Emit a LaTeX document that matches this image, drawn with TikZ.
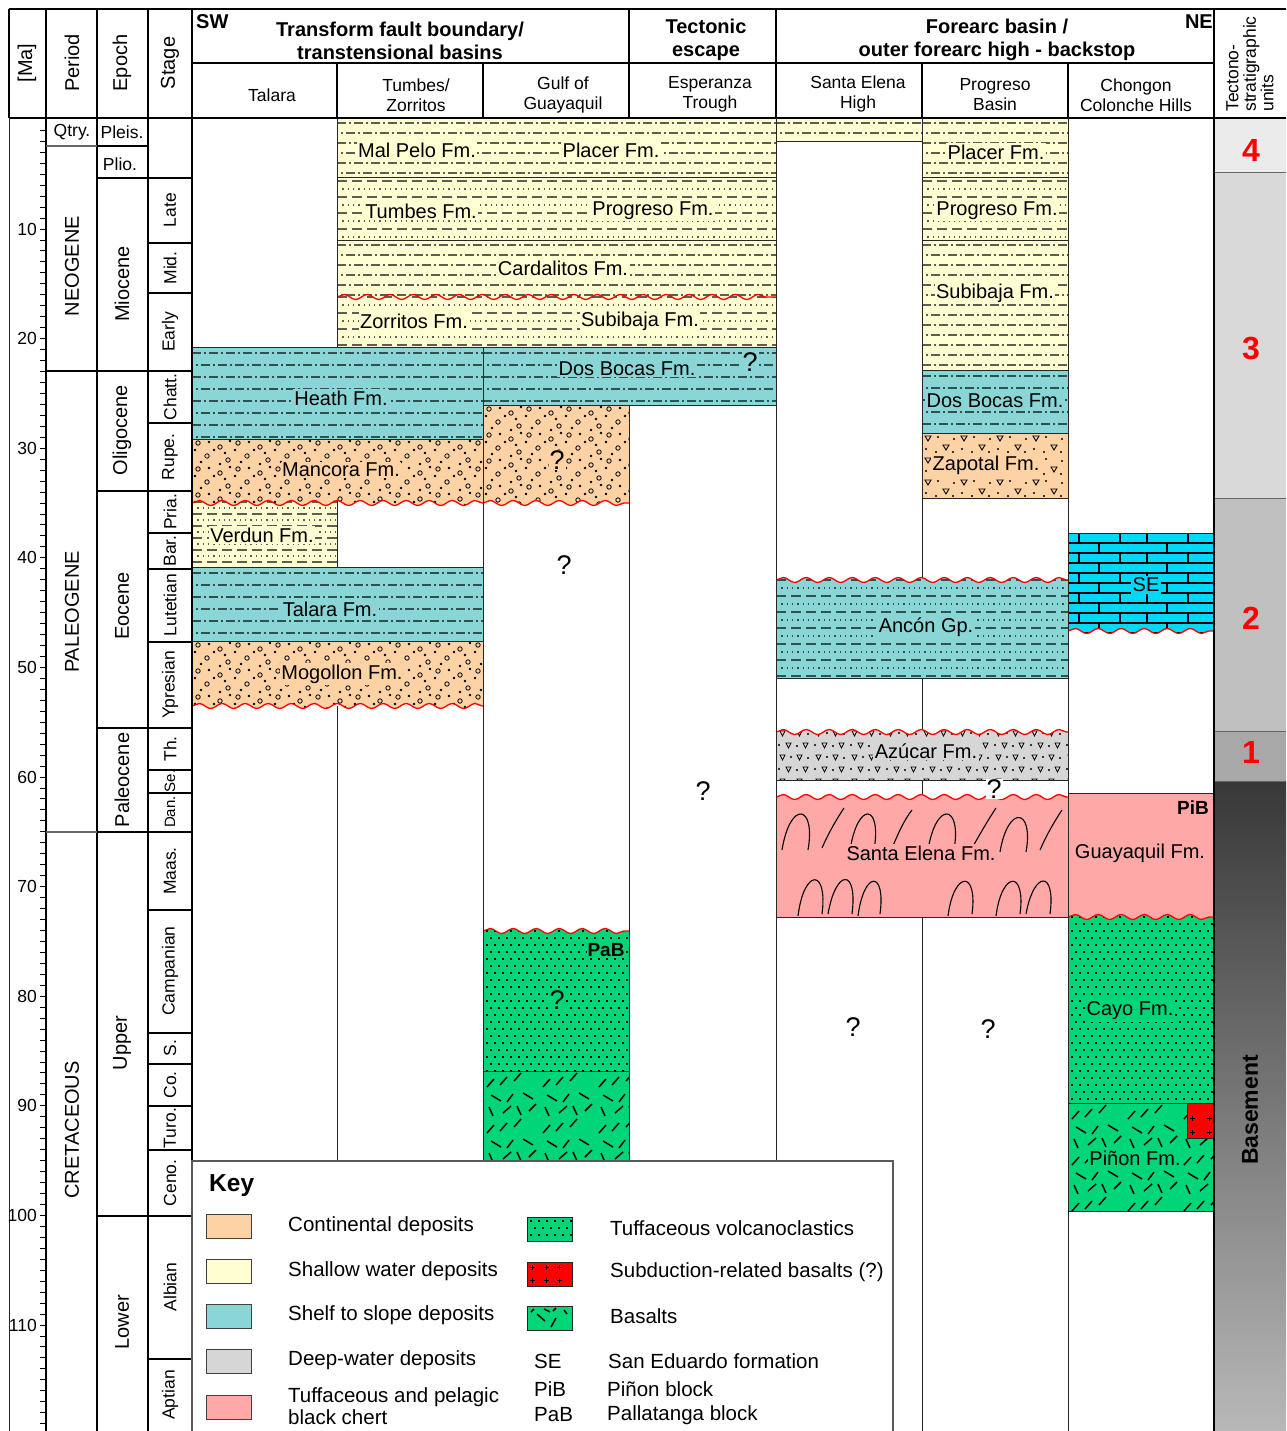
\documentclass[tikz,border=0pt]{standalone}
\usepackage{fontspec}
\setmainfont{Liberation Sans}
\usetikzlibrary{decorations.pathmorphing}
\definecolor{cCont}{HTML}{FDD2A4}
\definecolor{cShal}{HTML}{FFFDD2}
\definecolor{cShelf}{HTML}{8AD6D6}
\definecolor{cDeep}{HTML}{D6D6D6}
\definecolor{cChert}{HTML}{FFA8A8}
\definecolor{cTuff}{HTML}{00D677}
\definecolor{cLst}{HTML}{00D8F8}
\definecolor{cPatS}{HTML}{5E5E50}
\definecolor{cPatT}{HTML}{2E5252}
\definecolor{cU4}{HTML}{EBEBEB}
\definecolor{cU3}{HTML}{D9D9D9}
\definecolor{cU2}{HTML}{C0C0C0}
\definecolor{cU1}{HTML}{A8A8A8}
\definecolor{cBaseTop}{HTML}{383838}
\definecolor{cBaseBot}{HTML}{B8B8B8}
\newcommand\fz[2]{\fontsize{#1}{#2}\selectfont}
\tikzset{
  snk/.style={decoration={snake,amplitude=2.5pt,segment length=23pt}},
  wave/.style={draw=red,line width=1.3pt,snk,decorate},
  bord/.style={draw=black!85,line width=0.9pt},
  frm/.style={draw=black,line width=1.8pt},
  cl/.style={draw=black!85,line width=1pt},
  flbl/.style={font=\fz{20}{22},inner sep=1.5pt},
  qm/.style={font=\fz{27}{27},inner sep=1pt},
  hdr/.style={font=\fz{17.5}{20},align=center,inner sep=0pt},
  bhd/.style={font=\bfseries\fz{20}{23},align=center,inner sep=0pt},
  rhd/.style={font=\fz{20}{20},rotate=90,inner sep=0pt},
  stg/.style={font=\fz{17.5}{18},rotate=90,inner sep=0pt},
  per/.style={font=\fz{20}{20},rotate=90,inner sep=0pt},
  hz/.style={font=\fz{17.5}{18},inner sep=0pt},
  malbl/.style={font=\fz{17.5}{18},inner sep=0pt,anchor=east},
  unum/.style={font=\bfseries\fz{32}{32},text=red,inner sep=0pt},
  blk/.style={font=\bfseries\fz{19}{19},inner sep=0pt},
  keyt/.style={font=\fz{20.5}{22},inner sep=0pt,anchor=west,align=left},
  sw/.style={draw=black!75,line width=1pt},
}
% ---------- patterns (drawn inside a clipped layer; box = \LA,\LB,\LC,\LD)
\newcommand\pDD[2]{%
  \pgfmathtruncatemacro\nr{(\LD-\LB)/#2+1}%
  \foreach \k in {0,...,\nr}{%
    \pgfmathsetmacro\yy{\LB+#2/2+#2*\k}%
    \pgfmathsetmacro\ph{mod(\k,2)*8}%
    \draw[#1,line width=1.1pt,dash pattern=on 9pt off 3pt on 2pt off 3pt,dash phase=\ph pt] (\LA,\yy) -- (\LC,\yy);
  }}
\newcommand\pDot[3]{%
  \pgfmathtruncatemacro\nr{(\LD-\LB)/#3+1}%
  \foreach \k in {0,...,\nr}{%
    \pgfmathsetmacro\yy{\LB+#3/2+#3*\k}%
    \pgfmathtruncatemacro\odd{mod(\k,2)}%
    \ifnum\odd=0
      \draw[#1,line width=1.1pt,dash pattern=on 10pt off 5pt] (\LA,\yy) -- (\LC,\yy);
    \else
      \draw[#2,line width=1.3pt,dash pattern=on 1.3pt off 4pt] (\LA,\yy) -- (\LC,\yy);
    \fi
  }}
\newcommand\pGrid{%
  \pgfmathtruncatemacro\nr{(\LD-\LB)/7+1}%
  \foreach \k in {0,...,\nr}{%
    \pgfmathsetmacro\yy{\LB+4+7*\k}%
    \pgfmathsetmacro\ph{mod(\k,2)*4}%
    \draw[black,line width=1.5pt,dash pattern=on 1.5pt off 6.5pt,dash phase=\ph pt] (\LA+3,\yy) -- (\LC,\yy);
  }}
\newcommand\tile[3]{%
  \pgfmathtruncatemacro\nx{(\LC-\LA)/#1+1}%
  \pgfmathtruncatemacro\ny{(\LD-\LB)/#2+1}%
  \foreach \i in {0,...,\nx}{\foreach \j in {0,...,\ny}{%
    \begin{scope}[shift={(\LA+#1*\i,\LB+#2*\j)}]#3\end{scope}}}}
\newcommand\contT{%
  \draw[black,line width=0.8pt] (6,4) circle (2.2pt) (28,8) circle (2.2pt) (15,17) circle (2.2pt) (36,21) circle (2.2pt);
  \fill[black] (17,3) circle (1.3pt) (38,2) circle (1.3pt) (3,11) circle (1.3pt) (22,11) circle (1.3pt) (9,23) circle (1.3pt) (28,25) circle (1.3pt) (33,14) circle (1.3pt);}
\newcommand\zapT{%
  \draw[black,line width=0.9pt] (3,3)--(9,3)--(6,8)--cycle (21,12)--(27,12)--(24,17)--cycle;
  \fill[black] (16,4) circle (1.2pt) (32,6) circle (1.2pt) (4,16) circle (1.2pt) (14,19) circle (1.2pt) (31,19) circle (1.2pt);}
\newcommand\azuT{%
  \draw[black,line width=0.8pt] (4,3)--(9,3)--(6.5,8)--cycle (21,3)--(26,3)--(23.5,8)--cycle (10,15)--(15,15)--(12.5,20)--cycle (27,15)--(32,15)--(29.5,20)--cycle;
  \fill[black] (15,5) circle (1.2pt) (32,6) circle (1.2pt) (3,17) circle (1.2pt) (21,18) circle (1.2pt);}
\newcommand\basT{%
  \draw[black,line width=1.5pt] (4,16)--(11,8) (17,14)--(24,6) (31,10)--(38,2) (8,24)--(18,30) (24,31)--(30,23) (40,22)--(50,28) (6,36)--(10,45) (20,42)--(28,35) (34,35)--(38,44) (46,40)--(53,33);}
\newcommand\plusm[2]{\draw[black,line width=0.8pt] (#1-2.5,#2) -- (#1+2.5,#2) (#1,#2-2.5) -- (#1,#2+2.5);}
% ---------- layers
\newcommand\layer[6]{%
  \def\LA{#1}\def\LB{#2}\def\LC{#3}\def\LD{#4}%
  \begin{scope}\clip (#1,#2) rectangle (#3,#4);
    \fill[#5] (#1,#2) rectangle (#3,#4); #6\end{scope}
  \draw[bord] (#1,#2) rectangle (#3,#4);}
\newcommand\layerNT[6]{%
  \def\LA{#1}\def\LB{#2}\def\LC{#3}\def\LD{#4}%
  \begin{scope}\clip (#1,#2) rectangle (#3,#4);
    \fill[#5] (#1,#2) rectangle (#3,#4); #6\end{scope}
  \draw[bord] (#1,#2) -- (#1,#4) -- (#3,#4) -- (#3,#2);}
\newcommand\layerWB[6]{%
  \def\LA{#1}\def\LB{#2}\def\LC{#3}\def\LD{#4+4}%
  \begin{scope}\clip (#1,#4) decorate[snk]{-- (#3,#4)} -- (#3,#2) -- (#1,#2) -- cycle;
    \fill[#5] (#1,#2) rectangle (#3,#4+4); #6\end{scope}
  \draw[bord] (#1,#4) -- (#1,#2) -- (#3,#2) -- (#3,#4);
  \draw[wave] (#1,#4) -- (#3,#4);}
\newcommand\layerWT[6]{%
  \def\LA{#1}\def\LB{#2-4}\def\LC{#3}\def\LD{#4}%
  \begin{scope}\clip (#1,#2) decorate[snk]{-- (#3,#2)} -- (#3,#4) -- (#1,#4) -- cycle;
    \fill[#5] (#1,#2-4) rectangle (#3,#4); #6\end{scope}
  \draw[bord] (#1,#2) -- (#1,#4) -- (#3,#4) -- (#3,#2);
  \draw[wave] (#1,#2) -- (#3,#2);}

\begin{document}
\begin{tikzpicture}[x=1pt,y=-1pt]
\useasboundingbox (0,0) rectangle (1286,1431);
\clip (0,0) rectangle (1286,1431);
\fill[white] (0,0) rectangle (1286,1431);

% ---------- tectono-stratigraphic units
\fill[cU4] (1214,118) rectangle (1286,173);
\fill[cU3] (1214,173) rectangle (1286,498);
\fill[cU2] (1214,498) rectangle (1286,731);
\fill[cU1] (1214,731) rectangle (1286,781);
\shade[top color=cBaseTop,bottom color=cBaseBot] (1214,781) rectangle (1286,1431);
\draw[cl,draw=black!60] (1214,173) -- (1286,173) (1214,498) -- (1286,498) (1214,731) -- (1286,731) (1214,781) -- (1286,781);

% ---------- Talara / Tumbes
\layer{192}{347}{483}{439}{cShelf}{\pDD{cPatT}{12}}
\layerNT{192}{499}{337}{567}{cShal}{\pDot{cPatS}{cPatS}{6}}
\layerWB{192}{439}{483}{503}{cCont}{\tile{40}{26}{\contT}}
\layer{192}{567}{483}{641}{cShelf}{\pDD{cPatT}{12}}
\layerWB{192}{641}{483}{706}{cCont}{\tile{40}{26}{\contT}}

% ---------- Tumbes + Gulf + Esperanza (Neogene)
\layer{337}{118}{776}{177}{cShal}{\pDD{cPatS}{10}}
\layer{337}{177}{776}{240}{cShal}{\pDot{cPatS}{cPatS}{8}}
\layerNT{337}{293}{776}{347}{cShal}{\pDot{cPatS}{cPatS}{8}}
\layerWB{337}{240}{776}{297}{cShal}{\pDD{cPatS}{10}}
\layer{483}{347}{776}{405}{cShelf}{\pDD{cPatT}{12}}
\layerWB{483}{405}{629}{503}{cCont}{\tile{40}{26}{\contT}}
\layerWT{483}{931}{629}{1071}{cTuff}{\pGrid}
\layer{483}{1071}{629}{1170}{cTuff}{\tile{56}{46}{\basT}}

% ---------- Santa Elena High / Progreso
\layer{776}{118}{922}{141}{cShal}{\pDD{cPatS}{10}}
\layer{922}{118}{1068}{177}{cShal}{\pDD{cPatS}{10}}
\layer{922}{177}{1068}{240}{cShal}{\pDot{cPatS}{cPatS}{8}}
\layer{922}{240}{1068}{370}{cShal}{\pDD{cPatS}{10}}
\layer{922}{370}{1068}{433}{cShelf}{\pDD{cPatT}{12}}
\layer{922}{433}{1068}{498}{cCont}{\tile{36}{22}{\zapT}}
\layerWT{776}{580}{1068}{678}{cShelf}{\pDot{cPatT}{cPatT}{8}}
\layerWT{776}{732}{1068}{780}{cDeep}{\tile{36}{24}{\azuT}}
\layerWT{776}{797}{1068}{917}{cChert}{%
  \draw[black,line width=1.1pt]
   (782,850) .. controls (790,800) and (816,804) .. (808,850)
   (822,848) .. controls (828,834) and (836,820) .. (844,808)
   (850,850) .. controls (858,800) and (882,804) .. (874,850)
   (892,848) .. controls (898,834) and (904,820) .. (912,810)
   (928,850) .. controls (936,800) and (962,804) .. (954,850)
   (972,848) .. controls (980,834) and (988,820) .. (996,808)
   (1000,852) .. controls (1008,804) and (1034,808) .. (1026,852)
   (1040,850) .. controls (1046,836) and (1054,822) .. (1062,810)
   (798,916) .. controls (804,868) and (828,868) .. (822,914)
   (828,914) .. controls (836,868) and (858,868) .. (852,914)
   (858,916) .. controls (864,870) and (886,870) .. (880,914)
   (948,916) .. controls (954,870) and (978,870) .. (972,914)
   (996,916) .. controls (1002,870) and (1026,870) .. (1020,914)
   (1026,914) .. controls (1034,870) and (1056,870) .. (1050,914);}

% ---------- Chongon Colonche Hills
\layerWB{1068}{533}{1214}{631}{cLst}{%
  \foreach \k in {0,...,10}{\draw[black,line width=1.4pt] (\LA,533+10*\k) -- (\LC,533+10*\k);}
  \foreach \k in {0,2,...,10}{\draw[black,line width=1.4pt] (1079,533+10*\k) -- ++(0,10) (1120,533+10*\k) -- ++(0,10) (1147,533+10*\k) -- ++(0,10) (1188,533+10*\k) -- ++(0,10);}
  \foreach \k in {1,3,...,9}{\draw[black,line width=1.4pt] (1099,533+10*\k) -- ++(0,10) (1167,533+10*\k) -- ++(0,10);}}
\layerNT{1068}{913}{1214}{1103}{cTuff}{\pGrid}
\layerWB{1068}{793}{1214}{917}{cChert}{}
\layer{1068}{1103}{1214}{1211}{cTuff}{\tile{56}{46}{\basT}}
\layer{1187}{1103}{1214}{1138}{red}{\plusm{1192}{1118}\plusm{1209}{1118}\plusm{1192}{1132}\plusm{1209}{1132}}

% ---------- frame and left columns
\draw[frm] (9,9) -- (1286,9);
\draw[frm] (9,118) -- (1286,118);
\draw[frm] (9,9) -- (9,118);
\draw[cl] (9,118) -- (9,1431);
\draw[frm] (46,9) -- (46,1431) (97,9) -- (97,1431) (148,9) -- (148,1431) (192,9) -- (192,1431);
\draw[line width=1.2pt,draw=black!60] (46,146) -- (97,146) (46,832) -- (97,832);
\draw[line width=1.6pt] (46,371) -- (97,371);
\draw[line width=1.6pt] (97,146) -- (148,146) (97,178) -- (148,178) (97,371) -- (148,371) (97,491) -- (148,491) (97,728) -- (148,728) (97,832) -- (148,832) (97,1216) -- (148,1216);
\foreach \yy in {178,243,293,371,423,491,533,569,642,728,770,793,832,910,1033,1064,1106,1150,1216,1359}
  \draw[line width=1.6pt] (148,\yy) -- (192,\yy);
\foreach \m in {1,...,119}{\pgfmathsetmacro\ty{119.4+10.96*\m}\draw[line width=0.9pt] (40,\ty) -- (46,\ty);}
\foreach \m in {10,20,...,110}{\pgfmathsetmacro\ty{119.4+10.96*\m}%
  \node[malbl] (ma\m) at (37,\ty) {\m};}

% ---------- header lines
\draw[line width=1.2pt] (192,63) -- (1214,63);
\draw[line width=1.2pt] (629,9) -- (629,118) (776,9) -- (776,118);
\draw[line width=1.2pt] (337,63) -- (337,118) (483,63) -- (483,118) (922,63) -- (922,118) (1068,63) -- (1068,118);
\draw[line width=1.2pt] (1214,9) -- (1214,1431);

% ---------- body column lines
\draw[cl] (337,118) -- (337,347) (337,706) -- (337,1161);
\draw[cl] (483,347) -- (483,1161);
\draw[cl] (629,405) -- (629,1161);
\draw[cl] (776,118) -- (776,1161);
\draw[cl] (922,118) -- (922,577) (922,678) -- (922,729) (922,780) -- (922,794) (922,917) -- (922,1431);
\draw[cl] (1068,118) -- (1068,1431);

% ---------- key
\draw[draw=black!65,line width=1.2pt,fill=white] (192,1161) rectangle (893,1445);
\node[font=\bfseries\fz{24.5}{25},inner sep=0pt,anchor=west] (keyh) at (209,1186) {Key};
\fill[cCont] (206,1214) rectangle (251,1238); \draw[sw] (206,1214) rectangle (251,1238);
\fill[cShal] (206,1259) rectangle (251,1283); \draw[sw] (206,1259) rectangle (251,1283);
\fill[cShelf] (206,1304) rectangle (251,1328); \draw[sw] (206,1304) rectangle (251,1328);
\fill[cDeep] (206,1349) rectangle (251,1373); \draw[sw] (206,1349) rectangle (251,1373);
\fill[cChert] (206,1395) rectangle (251,1419); \draw[sw] (206,1395) rectangle (251,1419);
\layer{527}{1217}{572}{1241}{cTuff}{\pGrid}
\layer{527}{1262}{572}{1286}{red}{\plusm{532}{1267}\plusm{546}{1267}\plusm{559}{1267}\plusm{532}{1280}\plusm{546}{1280}\plusm{559}{1280}}
\layer{527}{1306}{572}{1330}{cTuff}{\draw[black,line width=1.5pt] (531,1312)--(534,1309) (544,1309)--(550,1312) (553,1311)--(556,1308) (537,1314)--(545,1321) (551,1327)--(556,1318) (564,1310)--(567,1314);}
\node[keyt] (k1) at (288,1226) {Continental deposits};
\node[keyt] (k2) at (288,1271) {Shallow water deposits};
\node[keyt] (k3) at (288,1315) {Shelf to slope deposits};
\node[keyt] (k4) at (288,1360) {Deep-water deposits};
\node[keyt] (k5) at (288,1406) {Tuffaceous and pelagic\\black chert};
\node[keyt] (k6) at (610,1228) {Tuffaceous volcanoclastics};
\node[keyt] (k7) at (610,1272) {Subduction-related basalts (?)};
\node[keyt] (k8) at (610,1316) {Basalts};
\node[keyt] (k9) at (534,1361) {SE};
\node[keyt] (k10) at (534,1389) {PiB};
\node[keyt] (k11) at (534,1415) {PaB};
\node[keyt] (k12) at (608,1361) {San Eduardo formation};
\node[keyt] (k13) at (607,1389) {Piñon block};
\node[keyt] (k14) at (607,1415) {Pallatanga block};

% ---------- header texts
\node[rhd] (hMa) at (27,63) {[Ma]};
\node[rhd] (hPer) at (72,63) {Period};
\node[rhd] (hEp) at (122,63) {Epoch};
\node[rhd] (hSt) at (170,63) {Stage};
\node[bhd,anchor=west] (hSW) at (196,22) {SW};
\node[bhd] (hTF) at (400,41) {Transform fault boundary/\\transtensional basins};
\node[bhd] (hTE) at (706,40) {Tectonic\\escape};
\node[bhd] (hFA) at (997,40) {Forearc basin /\\outer forearc high - backstop};
\node[bhd,anchor=east] (hNE) at (1213,22) {NE};
\node[hdr] (cTal) at (272,95) {Talara};
\node[hdr] (cTum) at (416,95) {Tumbes/\\Zorritos};
\node[hdr] (cGul) at (563,95) {Gulf of\\Guayaquil};
\node[hdr] (cEsp) at (710,94) {Esperanza\\Trough};
\node[hdr] (cSEH) at (858,94) {Santa Elena\\High};
\node[hdr] (cPro) at (995,95) {Progreso\\Basin};
\node[hdr] (cCho) at (1136,95) {Chongon\\Colonche Hills};
\node[font=\fz{17.5}{17.5},align=left,rotate=90,inner sep=0pt] (cTec) at (1250,64) {Tectono-\\stratigraphic\\units};

% ---------- time scale texts
\node[hz] (pQ) at (72,132) {Qtry.};
\node[hz] (ePl) at (122,132) {Pleis.};
\node[hz] (ePli) at (120,164) {Plio.};
\node[per] (pNeo) at (72,266) {NEOGENE};
\node[per] (pPal) at (72,612) {PALEOGENE};
\node[per] (pCre) at (72,1130) {CRETACEOUS};
\node[per] (eMio) at (122,284) {Miocene};
\node[per] (eOli) at (122,430) {Oligocene};
\node[per] (eEoc) at (122,606) {Eocene};
\node[per] (ePal) at (122,780) {Paleocene};
\node[per] (eUp) at (122,1043) {Upper};
\node[per] (eLo) at (122,1322) {Lower};
\node[stg] (s1) at (170,210) {Late};
\node[stg] (s2) at (170,268) {Mid.};
\node[stg] (s3) at (170,332) {Early};
\node[stg] (s4) at (170,397) {Chatt.};
\node[stg] (s5) at (170,457) {Rupe.};
\node[stg] (s6) at (170,512) {Pria.};
\node[stg] (s7) at (170,551) {Bar.};
\node[stg] (s8) at (170,605) {Lutetian};
\node[stg] (s9) at (170,685) {Ypresian};
\node[stg] (s10) at (170,749) {Th.};
\node[stg,font=\fz{15}{15}] (s11) at (170,781) {Se.};
\node[stg,font=\fz{15}{15}] (s12) at (170,812) {Dan.};
\node[stg] (s13) at (170,871) {Maas.};
\node[stg] (s14) at (170,971) {Campanian};
\node[stg] (s15) at (170,1048) {S.};
\node[stg] (s16) at (170,1085) {Co.};
\node[stg] (s17) at (170,1128) {Turo.};
\node[stg] (s18) at (170,1183) {Ceno.};
\node[stg] (s19) at (170,1287) {Albian};
\node[stg] (s20) at (170,1395) {Aptian};

% ---------- formation labels
\node[flbl,fill=cShelf] (fHea) at (341,398) {Heath Fm.};
\node[flbl,fill=cCont] (fMan) at (341,470) {Mancora Fm.};
\node[flbl,fill=cShal] (fVer) at (262,535) {Verdun Fm.};
\node[flbl,fill=cShelf] (fTal) at (330,609) {Talara Fm.};
\node[flbl,fill=cCont] (fMog) at (342,674) {Mogollon Fm.};
\node[flbl,fill=cShal] (fMal) at (417,150) {Mal Pelo Fm.};
\node[flbl,fill=cShal] (fPla) at (611,150) {Placer Fm.};
\node[flbl,fill=cShal] (fTum) at (421,211) {Tumbes Fm.};
\node[flbl,fill=cShal] (fPro) at (653,211) {Progreso Fm.};
\node[flbl,fill=cShal] (fCar) at (563,268) {Cardalitos Fm.};
\node[flbl,fill=cShal] (fZor) at (414,321) {Zorritos Fm.};
\node[flbl,fill=cShal] (fSub) at (640,321) {Subibaja Fm.};
\node[flbl,fill=cShelf] (fDos) at (627,369) {Dos Bocas Fm.};
\node[flbl,fill=cShal] (fPla2) at (996,152) {Placer Fm.};
\node[flbl,fill=cShal] (fPro2) at (997,211) {Progreso Fm.};
\node[flbl,fill=cShal] (fSub2) at (995,293) {Subibaja Fm.};
\node[flbl,fill=cShelf] (fDos2) at (995,401) {Dos Bocas Fm.};
\node[flbl,fill=cCont] (fZap) at (986,465) {Zapotal Fm.};
\node[flbl,fill=cShelf] (fAnc) at (926,627) {Ancón Gp.};
\node[flbl,fill=cDeep] (fAzu) at (926,751) {Azúcar Fm.};
\node[flbl,fill=cChert] (fSEl) at (921,853) {Santa Elena Fm.};
\node[flbl,fill=cLst] (fSE) at (1146,585) {SE};
\node[flbl,fill=cChert] (fGua) at (1140,853) {Guayaquil Fm.};
\node[flbl,fill=cTuff] (fCay) at (1130,1011) {Cayo Fm.};
\node[flbl,fill=cTuff] (fPin) at (1135,1158) {Piñon Fm.};
\node[blk] (bPiB) at (1193,808) {PiB};
\node[blk,fill=cTuff,inner sep=1pt] (bPaB) at (606,950) {PaB};
\node[qm,fill=cShelf] (q1) at (750,362) {?};
\node[qm,fill=cCont] (q2) at (557,460) {?};
\node[qm] (q3) at (564,565) {?};
\node[qm,fill=cTuff] (q4) at (557,1000) {?};
\node[qm] (q5) at (703,791) {?};
\node[qm,fill=white] (q6) at (994,789) {?};
\node[qm] (q7) at (853,1027) {?};
\node[qm] (q8) at (988,1029) {?};

% ---------- unit numbers
\node[unum] (u4) at (1251,150) {4};
\node[unum] (u3) at (1251,349) {3};
\node[unum] (u2) at (1251,618) {2};
\node[unum] (u1) at (1251,752) {1};
\node[font=\bfseries\fz{23}{23},rotate=90,inner sep=0pt] (uB) at (1250,1110) {Basement};
\end{tikzpicture}
\end{document}
